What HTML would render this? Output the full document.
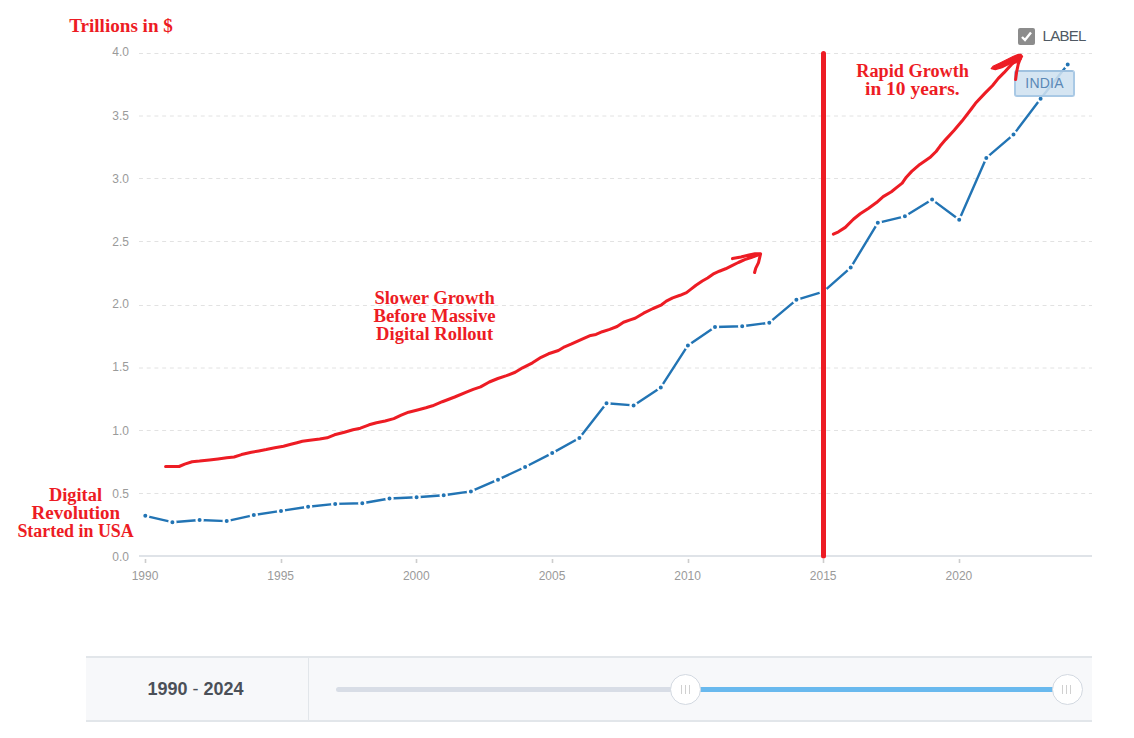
<!DOCTYPE html>
<html><head><meta charset="utf-8"><title>India GDP</title>
<style>
html,body{margin:0;padding:0;background:#fff;}
body{width:1134px;height:738px;position:relative;overflow:hidden;font-family:"Liberation Sans",sans-serif;}
svg.layer{position:absolute;left:0;top:0;}
.ylab{position:absolute;left:100px;width:29px;text-align:right;font-size:12px;line-height:12px;color:#9a9a9a;}
.xlab{position:absolute;top:570px;width:40px;text-align:center;font-size:12px;line-height:12px;color:#9a9a9a;}
#panel{position:absolute;left:86px;top:656px;width:1006px;height:62px;background:#f7f8fa;border-top:2px solid #e2e6ea;border-bottom:2px solid #e2e6ea;}
#range{position:absolute;left:0;top:0;width:222px;height:62px;border-right:1px solid #e2e6ea;text-align:center;font-size:18px;line-height:62px;color:#4b5058;}
#range b{font-weight:bold;}
#range span{position:relative;left:-1.5px;}
.track{position:absolute;height:5px;top:29px;border-radius:3px;}
.knob{position:absolute;width:29px;height:29px;border-radius:50%;background:#fff;border:1px solid #d3d9e1;top:16px;}
.knob i{position:absolute;top:10px;width:1px;height:9px;background:#d0d0d0;}
#lbl{position:absolute;left:1018px;top:28px;height:17px;}
#cb{position:absolute;left:0;top:0;width:17px;height:17px;border-radius:2px;background:#8c8c8c;}
#lbltxt{position:absolute;left:24.5px;top:-1px;font-size:15px;letter-spacing:-0.7px;line-height:17px;color:#4f5963;}
#india{position:absolute;left:1014px;top:70px;width:57px;height:23px;border:2px solid #a9c9e5;border-top-color:#9fc1df;border-radius:3px;background:rgba(207,225,240,0.88);font-size:14px;line-height:23px;letter-spacing:0.2px;text-align:center;color:#5a88b6;}
</style></head><body>

<svg class="layer" width="1134" height="738" viewBox="0 0 1134 738">
<line x1="139" y1="493.5" x2="1092" y2="493.5" stroke="#e2e2e2" stroke-width="1" stroke-dasharray="3.95 3.773"/>
<line x1="139" y1="430.5" x2="1092" y2="430.5" stroke="#e2e2e2" stroke-width="1" stroke-dasharray="3.95 3.773"/>
<line x1="139" y1="368.0" x2="1092" y2="368.0" stroke="#e2e2e2" stroke-width="1" stroke-dasharray="3.95 3.773"/>
<line x1="139" y1="305.5" x2="1092" y2="305.5" stroke="#e2e2e2" stroke-width="1" stroke-dasharray="3.95 3.773"/>
<line x1="139" y1="241.5" x2="1092" y2="241.5" stroke="#e2e2e2" stroke-width="1" stroke-dasharray="3.95 3.773"/>
<line x1="139" y1="178.5" x2="1092" y2="178.5" stroke="#e2e2e2" stroke-width="1" stroke-dasharray="3.95 3.773"/>
<line x1="139" y1="116.0" x2="1092" y2="116.0" stroke="#e2e2e2" stroke-width="1" stroke-dasharray="3.95 3.773"/>
<line x1="139" y1="53.5" x2="1092" y2="53.5" stroke="#e2e2e2" stroke-width="1" stroke-dasharray="3.95 3.773"/>
<rect x="139" y="555" width="953" height="2" fill="#dfe3e8"/>
<rect x="144.7" y="559" width="1.6" height="4" fill="#cdcdcd"/>
<rect x="280.7" y="559" width="1.6" height="4" fill="#cdcdcd"/>
<rect x="415.7" y="559" width="1.6" height="4" fill="#cdcdcd"/>
<rect x="551.7" y="559" width="1.6" height="4" fill="#cdcdcd"/>
<rect x="687.7" y="559" width="1.6" height="4" fill="#cdcdcd"/>
<rect x="822.7" y="559" width="1.6" height="4" fill="#cdcdcd"/>
<rect x="958.7" y="559" width="1.6" height="4" fill="#cdcdcd"/>
<path d="M145.3,515.8 L172.4,522.2 L199.6,520.0 L226.7,521.1 L253.8,515.1 L281.0,510.9 L308.1,506.8 L335.2,503.9 L362.3,503.3 L389.5,498.5 L416.6,497.3 L443.7,495.2 L470.9,491.4 L498.0,479.7 L525.1,467.0 L552.2,453.1 L579.4,438.0 L606.5,403.2 L633.6,405.4 L660.8,387.4 L687.9,345.4 L715.0,327.0 L742.2,326.3 L769.3,322.7 L796.4,299.8 L823.5,291.6 L850.7,267.6 L877.8,222.8 L904.9,216.3 L932.1,199.6 L959.2,219.8 L986.3,157.9 L1013.5,134.6 L1040.6,98.7 L1067.7,64.5" fill="none" stroke="#2274b4" stroke-width="2.4" stroke-linejoin="round"/>
<circle cx="145.3" cy="515.8" r="3.1" fill="#2274b4" stroke="#fff" stroke-width="2.2"/>
<circle cx="172.4" cy="522.2" r="3.1" fill="#2274b4" stroke="#fff" stroke-width="2.2"/>
<circle cx="199.6" cy="520.0" r="3.1" fill="#2274b4" stroke="#fff" stroke-width="2.2"/>
<circle cx="226.7" cy="521.1" r="3.1" fill="#2274b4" stroke="#fff" stroke-width="2.2"/>
<circle cx="253.8" cy="515.1" r="3.1" fill="#2274b4" stroke="#fff" stroke-width="2.2"/>
<circle cx="281.0" cy="510.9" r="3.1" fill="#2274b4" stroke="#fff" stroke-width="2.2"/>
<circle cx="308.1" cy="506.8" r="3.1" fill="#2274b4" stroke="#fff" stroke-width="2.2"/>
<circle cx="335.2" cy="503.9" r="3.1" fill="#2274b4" stroke="#fff" stroke-width="2.2"/>
<circle cx="362.3" cy="503.3" r="3.1" fill="#2274b4" stroke="#fff" stroke-width="2.2"/>
<circle cx="389.5" cy="498.5" r="3.1" fill="#2274b4" stroke="#fff" stroke-width="2.2"/>
<circle cx="416.6" cy="497.3" r="3.1" fill="#2274b4" stroke="#fff" stroke-width="2.2"/>
<circle cx="443.7" cy="495.2" r="3.1" fill="#2274b4" stroke="#fff" stroke-width="2.2"/>
<circle cx="470.9" cy="491.4" r="3.1" fill="#2274b4" stroke="#fff" stroke-width="2.2"/>
<circle cx="498.0" cy="479.7" r="3.1" fill="#2274b4" stroke="#fff" stroke-width="2.2"/>
<circle cx="525.1" cy="467.0" r="3.1" fill="#2274b4" stroke="#fff" stroke-width="2.2"/>
<circle cx="552.2" cy="453.1" r="3.1" fill="#2274b4" stroke="#fff" stroke-width="2.2"/>
<circle cx="579.4" cy="438.0" r="3.1" fill="#2274b4" stroke="#fff" stroke-width="2.2"/>
<circle cx="606.5" cy="403.2" r="3.1" fill="#2274b4" stroke="#fff" stroke-width="2.2"/>
<circle cx="633.6" cy="405.4" r="3.1" fill="#2274b4" stroke="#fff" stroke-width="2.2"/>
<circle cx="660.8" cy="387.4" r="3.1" fill="#2274b4" stroke="#fff" stroke-width="2.2"/>
<circle cx="687.9" cy="345.4" r="3.1" fill="#2274b4" stroke="#fff" stroke-width="2.2"/>
<circle cx="715.0" cy="327.0" r="3.1" fill="#2274b4" stroke="#fff" stroke-width="2.2"/>
<circle cx="742.2" cy="326.3" r="3.1" fill="#2274b4" stroke="#fff" stroke-width="2.2"/>
<circle cx="769.3" cy="322.7" r="3.1" fill="#2274b4" stroke="#fff" stroke-width="2.2"/>
<circle cx="796.4" cy="299.8" r="3.1" fill="#2274b4" stroke="#fff" stroke-width="2.2"/>
<circle cx="823.5" cy="291.6" r="3.1" fill="#2274b4" stroke="#fff" stroke-width="2.2"/>
<circle cx="850.7" cy="267.6" r="3.1" fill="#2274b4" stroke="#fff" stroke-width="2.2"/>
<circle cx="877.8" cy="222.8" r="3.1" fill="#2274b4" stroke="#fff" stroke-width="2.2"/>
<circle cx="904.9" cy="216.3" r="3.1" fill="#2274b4" stroke="#fff" stroke-width="2.2"/>
<circle cx="932.1" cy="199.6" r="3.1" fill="#2274b4" stroke="#fff" stroke-width="2.2"/>
<circle cx="959.2" cy="219.8" r="3.1" fill="#2274b4" stroke="#fff" stroke-width="2.2"/>
<circle cx="986.3" cy="157.9" r="3.1" fill="#2274b4" stroke="#fff" stroke-width="2.2"/>
<circle cx="1013.5" cy="134.6" r="3.1" fill="#2274b4" stroke="#fff" stroke-width="2.2"/>
<circle cx="1040.6" cy="98.7" r="3.1" fill="#2274b4" stroke="#fff" stroke-width="2.2"/>
<circle cx="1067.7" cy="64.5" r="3.1" fill="#2274b4" stroke="#fff" stroke-width="2.2"/>
</svg>
<div class="ylab" style="top:551px">0.0</div>
<div class="ylab" style="top:488px">0.5</div>
<div class="ylab" style="top:425px">1.0</div>
<div class="ylab" style="top:361px">1.5</div>
<div class="ylab" style="top:298px">2.0</div>
<div class="ylab" style="top:236px">2.5</div>
<div class="ylab" style="top:173px">3.0</div>
<div class="ylab" style="top:110px">3.5</div>
<div class="ylab" style="top:46px">4.0</div>
<div class="xlab" style="left:125.0px">1990</div>
<div class="xlab" style="left:260.7px">1995</div>
<div class="xlab" style="left:396.3px">2000</div>
<div class="xlab" style="left:532.0px">2005</div>
<div class="xlab" style="left:667.6px">2010</div>
<div class="xlab" style="left:803.2px">2015</div>
<div class="xlab" style="left:938.9px">2020</div>
<div id="lbl"><div id="cb"><svg width="17" height="17" viewBox="0 0 17 17"><path d="M4,9 L7,12 L13,4.5" fill="none" stroke="#fff" stroke-width="2.4"/></svg></div><div id="lbltxt">LABEL</div></div>
<div id="india">INDIA</div>
<svg class="layer" width="1134" height="738" viewBox="0 0 1134 738">
<g fill="none" stroke="#ed1c24" stroke-width="3.05" stroke-linejoin="round" stroke-linecap="round">
<path d="M165.6,466.5 L179.1,466.5 L184.7,464.1 L192.1,461.7 L199.5,461.1 L209.4,459.9 L218,458.9 L226.7,457.7 L234.1,457 L241.5,454.6 L251.4,452.3 L258.8,450.9 L266.2,449.6 L274.8,447.8 L283.5,446.2 L290.9,444.3 L297,442.7 L302.4,441.2 L309.8,440.2 L319.7,439 L327.1,437.8 L334.5,434.8 L344.4,432.2 L353,429.7 L360.4,428.2 L369.1,424.8 L376.5,422.7 L385.1,421 L393.8,418.6 L401.2,415.2 L408.6,412.2 L418.5,409.7 L425.9,407.8 L432.5,405.8 L442.3,401.7 L454.7,397 L467,391.9 L473.2,389.4 L480.6,386.9 L489.3,382 L497.9,378.5 L506.5,375.6 L515.2,372.3 L522.6,367.8 L532.5,362.8 L541.1,357.3 L548.5,353.8 L558.4,350.5 L564.6,346.8 L571.6,343.9 L583.3,338.6 L590.7,335.4 L596,334.4 L602.3,331.7 L609.7,329.4 L617.1,326.5 L623.5,322.2 L630.9,319.6 L635.1,318.2 L643.6,313.2 L653.1,308.5 L661.6,304.8 L666.3,301.1 L672.7,297.9 L680.1,295.3 L686.5,292.6 L690.7,289.4 L696,285.2 L702.3,281 L707.6,278 L714,273.6 L719.3,271.2 L725.6,268.8 L732,265.6 L738.3,262.5 L744.7,259.6 L751,257.5 L759.8,254.4"/>
<path d="M732.5,258.6 L741,256.9 L749,254.9 L755,253.7 L760.6,253.7 L758.5,262.6 L755.7,268.3 L754.6,272.5"/>
<path d="M747,256.3 L759.5,254.5 L750,258.2 Z" fill="#ed1c24" stroke-width="1.5"/>
<path d="M833.4,234.1 L838.5,231.8 L845.3,227.4 L853.4,219.2 L860.2,213.8 L868.3,208.4 L876.5,202.6 L883.2,196.6 L891.4,191.7 L896.8,187.4 L902.2,183.1 L906.3,177.2 L911.7,171.4 L919.8,164.4 L930.6,156.9 L936.1,151.5 L940.1,146.1 L945.6,139.6 L954.2,130.3 L962,121.1 L971.3,109 L975.5,103.3 L984.8,93.4 L992.6,85.5 L998.3,78.4 L1004,72.7 L1011.1,64.9 L1016.5,60"/>
<path d="M1020.5,58 L1018.3,64 L1016.6,72 L1015.6,79.5"/>
</g>
<path d="M991.2,68.6 L993,66.4 L1000,63 L1007.5,59.2 L1013,56.5 L1018.3,54.4 L1021,54.4 L1022.6,56.3 L1021,59.6 L1017,62.6 L1010.2,63.8 L1002.1,67.7 L995.3,69.6 Z" fill="#ed1c24" stroke="#ed1c24" stroke-width="1.2" stroke-linejoin="round"/>
<path d="M823.5,53.5 L823.5,556" fill="none" stroke="#ed1c24" stroke-width="5" stroke-linecap="round"/>
<g font-family="Liberation Serif, serif" font-weight="bold" font-size="18" fill="#ed1c24"><text x="69.2" y="31.6" textLength="103.7" lengthAdjust="spacingAndGlyphs">Trillions in $</text><text x="856.3" y="77" textLength="112.6" lengthAdjust="spacingAndGlyphs">Rapid Growth</text><text x="865.0" y="94.8" textLength="94.6" lengthAdjust="spacingAndGlyphs">in 10 years.</text><text x="374.4" y="303.8" textLength="120.4" lengthAdjust="spacingAndGlyphs">Slower Growth</text><text x="373.5" y="322.1" textLength="122.1" lengthAdjust="spacingAndGlyphs">Before Massive</text><text x="376.1" y="340.2" textLength="117.0" lengthAdjust="spacingAndGlyphs">Digital Rollout</text><text x="48.9" y="500.8" textLength="53.1" lengthAdjust="spacingAndGlyphs">Digital</text><text x="31.5" y="518.7" textLength="88.7" lengthAdjust="spacingAndGlyphs">Revolution</text><text x="17.4" y="536.8" textLength="116.3" lengthAdjust="spacingAndGlyphs">Started in USA</text></g>
</svg>
<div id="panel"><div id="range"><span><b>1990</b> - <b>2024</b></span></div>
<div class="track" style="left:250px;width:350px;background:#d8dde6"></div>
<div class="track" style="left:600px;width:382px;background:#69b9ee;border-radius:0"></div>
<div class="knob" style="left:584px"><i style="left:10px"></i><i style="left:14px"></i><i style="left:18px"></i></div>
<div class="knob" style="left:966px"><i style="left:9px"></i><i style="left:13px"></i><i style="left:17px"></i></div>
</div>
</body></html>
